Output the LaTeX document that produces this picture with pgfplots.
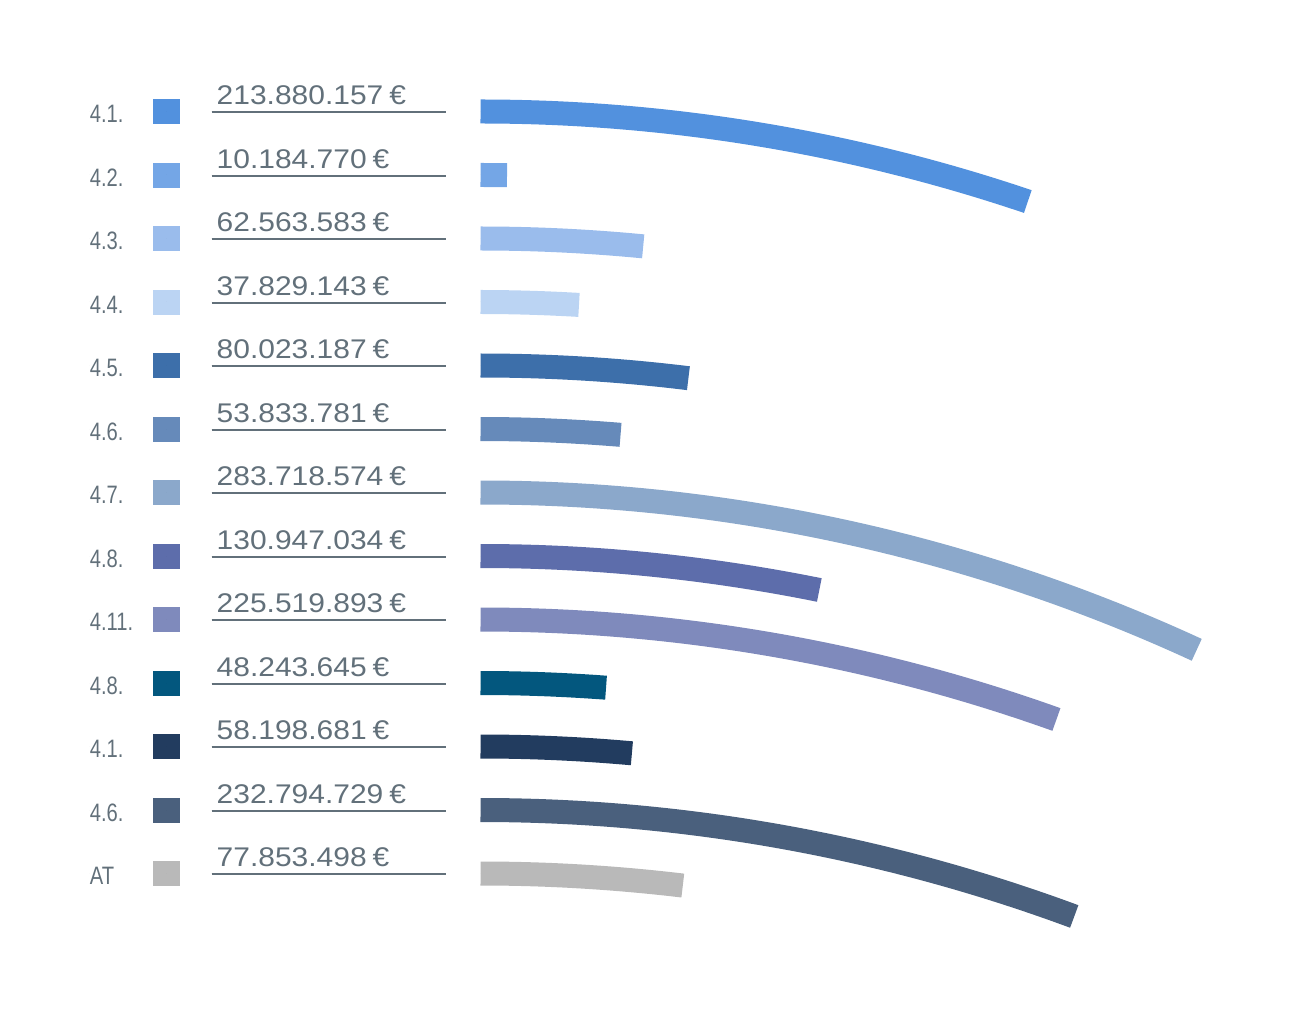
\documentclass[border=0pt]{standalone}
\usepackage{pgfplots}
\usepackage{pgfplotstable}
\pgfplotsset{compat=1.18}
\usepackage{fontspec}
\setmainfont{Liberation Sans}
\newfontfamily\valfont{Liberation Sans}[FakeStretch=1.11]
\newfontfamily\lblfont{Liberation Sans}[FakeStretch=0.80]

\definecolor{txtcol}{RGB}{98,112,122}
\definecolor{cA}{HTML}{5291DE}
\definecolor{cB}{HTML}{74A6E6}
\definecolor{cC}{HTML}{9ABCEC}
\definecolor{cD}{HTML}{BBD4F3}
\definecolor{cE}{HTML}{3D6FAA}
\definecolor{cF}{HTML}{668ABA}
\definecolor{cG}{HTML}{8BA8CB}
\definecolor{cH}{HTML}{5D6DAB}
\definecolor{cI}{HTML}{7F8ABC}
\definecolor{cJ}{HTML}{03577E}
\definecolor{cK}{HTML}{223C5F}
\definecolor{cL}{HTML}{4A607D}
\definecolor{cM}{HTML}{B9B9B9}

% y = row centre (px), val = amount in million euro
% xl/xs/xv/xa = left positions of label, square, amount, arc (px)
\pgfplotstableread{
xl   xs    xv    xa    y     lab   val         amount        col
89.5 166.3 211.7 480.5 111.5 4.1.  213.880157  213.880.157   cA
89.5 166.3 211.7 480.5 175.0 4.2.  10.184770   10.184.770    cB
89.5 166.3 211.7 480.5 238.5 4.3.  62.563583   62.563.583    cC
89.5 166.3 211.7 480.5 302.0 4.4.  37.829143   37.829.143    cD
89.5 166.3 211.7 480.5 365.5 4.5.  80.023187   80.023.187    cE
89.5 166.3 211.7 480.5 429.0 4.6.  53.833781   53.833.781    cF
89.5 166.3 211.7 480.5 492.5 4.7.  283.718574  283.718.574   cG
89.5 166.3 211.7 480.5 556.0 4.8.  130.947034  130.947.034   cH
89.5 166.3 211.7 480.5 619.5 4.11. 225.519893  225.519.893   cI
89.5 166.3 211.7 480.5 683.0 4.8.  48.243645   48.243.645    cJ
89.5 166.3 211.7 480.5 746.5 4.1.  58.198681   58.198.681    cK
89.5 166.3 211.7 480.5 810.0 4.6.  232.794729  232.794.729   cL
89.5 166.3 211.7 480.5 873.5 AT    77.853498   77.853.498    cM
}\datatable

\begin{document}
\begin{tikzpicture}
\begin{axis}[
  x=0.5pt, y=0.5pt, y dir=reverse,
  xmin=0, xmax=1293, ymin=0, ymax=1015,
  axis line style={draw=none},
  xtick=\empty, ytick=\empty,
  clip=false,
  every axis plot/.append style={only marks, mark=*, mark size=0pt,
    mark options={draw=none, fill=none}},
]
% row labels
\addplot[scatter, point meta=explicit symbolic,
  scatter/@pre marker code/.code={
    \node[anchor=base west, inner sep=0pt, text=txtcol,
      font=\lblfont\fontsize{12.6}{14}\selectfont] at (0,-5.6pt) {\pgfplotspointmeta};},
  scatter/@post marker code/.code={}]
  table[x=xl, y=y, meta=lab] {\datatable};
% colour squares
\addplot[scatter, point meta=explicit symbolic,
  scatter/@pre marker code/.code={
    \fill[color=\pgfplotspointmeta] (-6.5pt,-6pt) rectangle (6.5pt,6pt);},
  scatter/@post marker code/.code={}]
  table[x=xs, y=y, meta=col] {\datatable};
% amounts and underline
\addplot[scatter, point meta=explicit symbolic,
  scatter/@pre marker code/.code={
    \node[anchor=base west, inner sep=0pt, text=txtcol,
      font=\valfont\fontsize{13.5}{15}\selectfont] at (2.3pt,3.4pt) {\pgfplotspointmeta\hspace{0.22em}€};
    \draw[line width=1pt, txtcol] (0,-0.4pt) -- (117pt,-0.4pt);},
  scatter/@post marker code/.code={}]
  table[x=xv, y=y, meta=amount] {\datatable};
% arcs: length proportional to amount
\addplot[scatter, point meta=explicit symbolic,
  visualization depends on={\thisrow{val}\as\val},
  scatter/@pre marker code/.code={
    \begingroup
    \pgfkeys{/pgf/fpu=false}
    \pgfmathsetmacro\ang{\val*0.087285}
    \draw[line width=12pt, color=\pgfplotspointmeta] (0,0)
      arc[start angle=90, end angle={90-\ang}, radius=855pt];
    \endgroup},
  scatter/@post marker code/.code={}]
  table[x=xa, y=y, meta=col] {\datatable};
\end{axis}
\end{tikzpicture}
\end{document}
